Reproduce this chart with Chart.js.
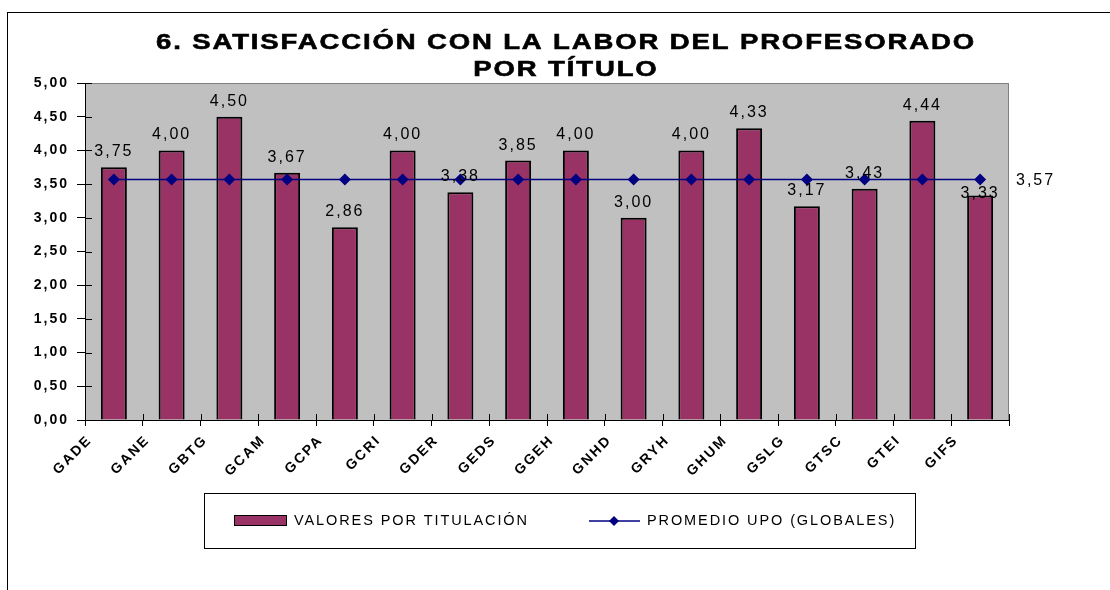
<!DOCTYPE html>
<html>
<head>
<meta charset="utf-8">
<script src="https://cdn.jsdelivr.net/npm/chart.js@4.4.1/dist/chart.umd.min.js"></script>
<style>
  html, body { margin: 0; padding: 0; background: #fff; }
  #wrap { width: 1110px; height: 590px; }
</style>
</head>
<body>
<div id="wrap"><canvas id="grafico" width="1110" height="590"></canvas></div>
<script>
var titulaciones = ["GADE", "GANE", "GBTG", "GCAM", "GCPA", "GCRI", "GDER", "GEDS",
  "GGEH", "GNHD", "GRYH", "GHUM", "GSLG", "GTSC", "GTEI", "GIFS"];
var valoresTitulacion = [3.75, 4.00, 4.50, 3.67, 2.86, 4.00, 3.38, 3.85,
  4.00, 3.00, 4.00, 4.33, 3.17, 3.43, 4.44, 3.33];
var promedioUPO = 3.57;
var promedioSerie = titulaciones.map(function() { return promedioUPO; });
var ticksY = [0, 0.5, 1, 1.5, 2, 2.5, 3, 3.5, 4, 4.5, 5];
var titulo = ["6. SATISFACCIÓN CON LA LABOR DEL PROFESORADO", "POR TÍTULO"];
var leyenda = ["VALORES POR TITULACIÓN", "PROMEDIO UPO (GLOBALES)"];

function coma(v) { return v.toFixed(2).replace(".", ","); }

// fondo gris del area de trazado + marco exterior
var fondoPlugin = {
  id: "fondo",
  beforeDraw: function(chart) {
    var ctx = chart.ctx, a = chart.chartArea;
    ctx.save();
    ctx.fillStyle = "#fff";
    ctx.fillRect(0, 0, chart.width, chart.height);
    ctx.strokeStyle = "#000";
    ctx.lineWidth = 1;
    ctx.strokeRect(7.5, 12.5, 1120, 600);
    ctx.fillStyle = "#c0c0c0";
    ctx.fillRect(a.left, a.top, a.right - a.left, a.bottom - a.top);
    ctx.strokeStyle = "#808080";
    ctx.strokeRect(a.left + 0.5, a.top + 0.5, a.right - a.left - 1, a.bottom - a.top);
    ctx.restore();
    // texto de ejes algo espaciado, como en el original
    ctx.letterSpacing = "2px";
  },
  afterDatasetsDraw: function(chart) {
    var ctx = chart.ctx, a = chart.chartArea;
    var y = chart.scales.y;
    ctx.save();
    ctx.strokeStyle = "#000";
    ctx.lineWidth = 1;
    // marcas que cruzan el eje
    ticksY.forEach(function(t) {
      var py = Math.round(y.getPixelForValue(t)) + 0.5;
      ctx.beginPath(); ctx.moveTo(a.left, py); ctx.lineTo(a.left + 7, py); ctx.stroke();
    });
    for (var i = 0; i <= titulaciones.length; i++) {
      var px = Math.round(a.left + i * (a.right - a.left) / titulaciones.length) + 0.5;
      ctx.beginPath(); ctx.moveTo(px, a.bottom); ctx.lineTo(px, a.bottom - 6); ctx.stroke();
    }
    ctx.beginPath(); ctx.moveTo(a.left + 0.5, a.top); ctx.lineTo(a.left + 0.5, a.bottom); ctx.stroke();
    ctx.beginPath(); ctx.moveTo(a.left, a.bottom + 0.5); ctx.lineTo(a.right, a.bottom + 0.5); ctx.stroke();
    ctx.restore();
  }
};

// etiquetas de datos, titulo y leyenda
var textosPlugin = {
  id: "textos",
  afterDraw: function(chart) {
    var ctx = chart.ctx, a = chart.chartArea;
    ctx.save();
    ctx.fillStyle = "#000";
    ctx.textAlign = "center";
    ctx.textBaseline = "alphabetic";

    ctx.font = "bold 22px 'Liberation Sans', Arial, sans-serif";
    ctx.letterSpacing = "1.5px";
    ctx.strokeStyle = "#000";
    ctx.lineWidth = 0.6;
    [[titulo[0], 49], [titulo[1], 76]].forEach(function(t) {
      ctx.save();
      ctx.translate(566, t[1]);
      ctx.scale(1.25, 1);
      ctx.fillText(t[0], 0, 0);
      ctx.strokeText(t[0], 0, 0);
      ctx.restore();
    });

    ctx.font = "16px 'Liberation Sans', Arial, sans-serif";
    ctx.letterSpacing = "2px";
    var barras = chart.getDatasetMeta(1).data;
    barras.forEach(function(b, i) {
      var baja = i === 15 ? 13 : 0;
      ctx.fillText(coma(valoresTitulacion[i]), b.x, b.y - 11 + baja);
    });
    var puntos = chart.getDatasetMeta(0).data;
    var ult = puntos[puntos.length - 1];
    ctx.textAlign = "left";
    ctx.fillText(coma(promedioUPO), a.right + 7, ult.y + 6);

    // leyenda
    ctx.strokeStyle = "#000";
    ctx.lineWidth = 1;
    ctx.strokeRect(204.5, 493.5, 711, 55);
    ctx.fillStyle = "#993366";
    ctx.fillRect(234, 515, 52, 10);
    ctx.strokeRect(234.5, 515.5, 52, 10);
    ctx.fillStyle = "#000";
    ctx.font = "14.5px 'Liberation Sans', Arial, sans-serif";
    ctx.letterSpacing = "1.9px";
    ctx.textBaseline = "middle";
    ctx.fillText(leyenda[0], 294, 521);
    ctx.strokeStyle = "#000080";
    ctx.lineWidth = 1.5;
    ctx.beginPath(); ctx.moveTo(589, 521); ctx.lineTo(640, 521); ctx.stroke();
    ctx.fillStyle = "#000080";
    ctx.beginPath();
    ctx.moveTo(614, 516); ctx.lineTo(619, 521); ctx.lineTo(614, 526); ctx.lineTo(609, 521);
    ctx.closePath(); ctx.fill();
    ctx.fillStyle = "#000";
    ctx.fillText(leyenda[1], 647, 521);
    ctx.restore();
  }
};

var ctx = document.getElementById("grafico").getContext("2d");
var chart = new Chart(ctx, {
  type: "bar",
  data: {
    labels: titulaciones,
    datasets: [
      {
        type: "line",
        label: leyenda[1],
        data: promedioSerie,
        borderColor: "#000080",
        borderWidth: 1.5,
        backgroundColor: "#000080",
        pointStyle: "rectRot",
        pointRadius: 6,
        pointHoverRadius: 6,
        pointBorderWidth: 0,
        fill: false,
        order: 0
      },
      {
        label: leyenda[0],
        data: valoresTitulacion,
        backgroundColor: "#993366",
        borderColor: "#000",
        borderWidth: 2,
        borderSkipped: "bottom",
        barPercentage: 0.9,
        categoryPercentage: 0.5,
        order: 1
      }
    ]
  },
  plugins: [fondoPlugin, textosPlugin],
  options: {
    responsive: false,
    animation: false,
    events: [],
    layout: { padding: { left: 0, top: 83, right: 101, bottom: 110 } },
    plugins: { legend: { display: false }, title: { display: false }, tooltip: { enabled: false } },
    scales: {
      x: {
        offset: true,
        grid: { display: true, offset: true, drawOnChartArea: false, drawTicks: true, tickLength: 6, color: "#000" },
        border: { display: false },
        ticks: {
          color: "#000",
          font: { family: "'Liberation Sans', Arial, sans-serif", size: 14, weight: "bold" },
          minRotation: 45, maxRotation: 45,
          labelOffset: -24,
          padding: 6,
          autoSkip: false
        },
        afterFit: function(s) { s.height = 60; }
      },
      y: {
        min: 0, max: 5,
        afterBuildTicks: function(s) { s.ticks = ticksY.map(function(v) { return { value: v }; }); },
        grid: { drawOnChartArea: false, drawTicks: true, tickLength: 8, color: "#000" },
        border: { display: false },
        ticks: {
          color: "#000",
          font: { family: "'Liberation Sans', Arial, sans-serif", size: 14, weight: "bold" },
          padding: 8,
          callback: function(v) { return coma(v); }
        },
        afterFit: function(s) { s.width = 85; }
      }
    }
  }
});
</script>
</body>
</html>
